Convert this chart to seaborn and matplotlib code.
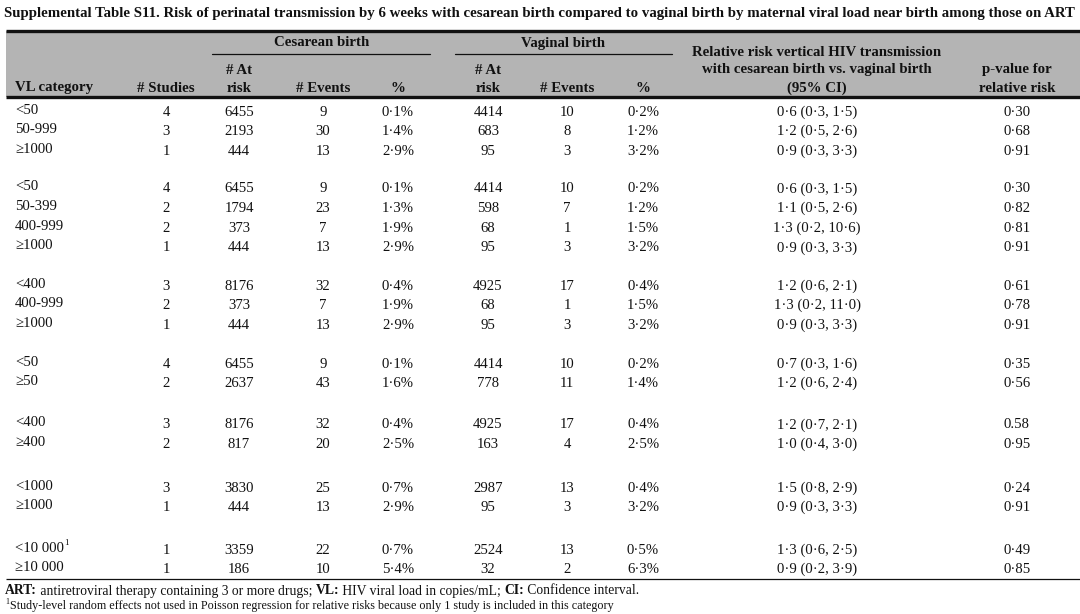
import matplotlib
matplotlib.use("Agg")
import matplotlib.pyplot as plt
import seaborn as sns

# ---------------- data ----------------
title = ("Supplemental Table S11. Risk of perinatal transmission by 6 weeks with cesarean birth "
         "compared to vaginal birth by maternal viral load near birth among those on ART")

group_sizes = [3, 4, 3, 2, 2, 2, 2]
vl_category = ["<50", "50-999", "≥1000",
               "<50", "50-399", "400-999", "≥1000",
               "<400", "400-999", "≥1000",
               "<50", "≥50",
               "<400", "≥400",
               "<1000", "≥1000",
               "<10 000", "≥10 000"]
vl_footnote_mark = ["", "", "", "", "", "", "", "", "", "", "", "", "", "", "", "", "1", ""]
n_studies = [4, 3, 1, 4, 2, 2, 1, 3, 2, 1, 4, 2, 3, 2, 3, 1, 1, 1]
ces_at_risk = [6455, 2193, 444, 6455, 1794, 373, 444, 8176, 373, 444, 6455, 2637, 8176, 817, 3830, 444, 3359, 186]
ces_events = [9, 30, 13, 9, 23, 7, 13, 32, 7, 13, 9, 43, 32, 20, 25, 13, 22, 10]
ces_pct = ["0·1%", "1·4%", "2·9%", "0·1%", "1·3%", "1·9%", "2·9%", "0·4%", "1·9%", "2·9%",
           "0·1%", "1·6%", "0·4%", "2·5%", "0·7%", "2·9%", "0·7%", "5·4%"]
vag_at_risk = [4414, 683, 95, 4414, 598, 68, 95, 4925, 68, 95, 4414, 778, 4925, 163, 2987, 95, 2524, 32]
vag_events = [10, 8, 3, 10, 7, 1, 3, 17, 1, 3, 10, 11, 17, 4, 13, 3, 13, 2]
vag_pct = ["0·2%", "1·2%", "3·2%", "0·2%", "1·2%", "1·5%", "3·2%", "0·4%", "1·5%", "3·2%",
           "0·2%", "1·4%", "0·4%", "2·5%", "0·4%", "3·2%", "0·5%", "6·3%"]
rel_risk = ["0·6 (0·3, 1·5)", "1·2 (0·5, 2·6)", "0·9 (0·3, 3·3)",
            "0·6 (0·3, 1·5)", "1·1 (0·5, 2·6)", "1·3 (0·2, 10·6)", "0·9 (0·3, 3·3)",
            "1·2 (0·6, 2·1)", "1·3 (0·2, 11·0)", "0·9 (0·3, 3·3)",
            "0·7 (0·3, 1·6)", "1·2 (0·6, 2·4)",
            "1·2 (0·7, 2·1)", "1·0 (0·4, 3·0)",
            "1·5 (0·8, 2·9)", "0·9 (0·3, 3·3)",
            "1·3 (0·6, 2·5)", "0·9 (0·2, 3·9)"]
p_value = ["0·30", "0·68", "0·91", "0·30", "0·82", "0·81", "0·91", "0·61", "0·78", "0·91",
           "0·35", "0·56", "0.58", "0·95", "0·24", "0·91", "0·49", "0·85"]

group_headers = ["Cesarean birth", "Vaginal birth"]
col_headers = ["VL category", "# Studies", "# At\nrisk", "# Events", "%", "# At\nrisk", "# Events", "%",
               "Relative risk vertical HIV transmission\nwith cesarean birth vs. vaginal birth\n(95% CI)",
               "p-value for\nrelative risk"]
footnote1 = [("ART:", "bold"), (" antiretroviral therapy containing 3 or more drugs; ", "normal"),
             ("VL:", "bold"), (" HIV viral load in copies/mL; ", "normal"),
             ("CI:", "bold"), (" Confidence interval.", "normal")]
footnote2 = "Study-level random effects not used in Poisson regression for relative risks because only 1 study is included in this category"

# ---------------- layout (pixels) ----------------
W, H = 1080, 614
sns.set_theme(style="white")
plt.rcParams["font.family"] = ["Liberation Serif", "DejaVu Serif"]

fig = plt.figure(figsize=(W / 100, H / 100), dpi=100)
ax = fig.add_axes([0, 0, 1, 1])
ax.set_xlim(0, W)
ax.set_ylim(H, 0)
ax.axis("off")

FS = 10.6
HFS = 10.75
INK = "#111111"
GRAY = "#b4b4b4"

# header band
ax.axhspan(31, 97, xmin=6 / W, xmax=1.0, color=GRAY, lw=0, zorder=0)
ax.plot([6, W], [31, 31], color=INK, lw=2.4, solid_capstyle="butt")
ax.plot([6, W], [97, 97], color=INK, lw=2.4, solid_capstyle="butt")
ax.plot([6, W], [579, 579], color=INK, lw=0.9, solid_capstyle="butt")

# title (shrunk just enough to fit the frame)
fig.canvas.draw()
renderer = fig.canvas.get_renderer()
tfs = 10.85
ttl = ax.text(4, 13, title, fontsize=tfs, fontweight="bold", color=INK, va="center", ha="left")
while ttl.get_window_extent(renderer=renderer).x1 > W - 2 and tfs > 8:
    tfs -= 0.05
    ttl.set_fontsize(tfs)

# column x centers
col_x = [15, 166, 239, 323, 398, 488, 567, 643, 817, 1017]

# group headers with underlines
ax.text(322, 43, group_headers[0], fontsize=HFS, fontweight="bold", ha="center", va="center", color=INK)
ax.plot([212, 430], [54, 54], color=INK, lw=0.9)
ax.text(563, 43, group_headers[1], fontsize=HFS, fontweight="bold", ha="center", va="center", color=INK)
ax.plot([455, 672], [54, 54], color=INK, lw=0.9)

# column headers (bottom aligned, 18px line spacing)
for j, hdr in enumerate(col_headers):
    lines = hdr.split("\n")
    n = len(lines)
    for k, line in enumerate(lines):
        y = 88 - 18 * (n - 1 - k)
        ax.text(col_x[j], y, line, fontsize=HFS, fontweight="bold", color=INK,
                ha="left" if j == 0 else "center", va="center")

# rows
group_starts = [112, 189, 286, 364, 425, 488, 550]
STEP = 19.6
row_y = []
for g, size in enumerate(group_sizes):
    for r in range(size):
        row_y.append(group_starts[g] + r * STEP)

for i, y in enumerate(row_y):
    t = ax.text(col_x[0], y - 2, vl_category[i], fontsize=FS, ha="left", va="center", color=INK)
    if vl_footnote_mark[i]:
        bb = t.get_window_extent(renderer=renderer)
        ax.text(col_x[0] + bb.width + 0.5, y - 7, vl_footnote_mark[i], fontsize=6.5,
                ha="left", va="center", color=INK)
    values = [n_studies[i], ces_at_risk[i], ces_events[i], ces_pct[i],
              vag_at_risk[i], vag_events[i], vag_pct[i], rel_risk[i], p_value[i]]
    for j, v in enumerate(values, start=1):
        ax.text(col_x[j], y, str(v), fontsize=FS, ha="center", va="center", color=INK)

# footnotes with mixed weights
x = 5
for txt, wt in footnote1:
    t = ax.text(x, 591, txt, fontsize=9.8, fontweight=wt, ha="left", va="center", color=INK)
    bb = t.get_window_extent(renderer=renderer)
    x += bb.width
ax.text(5, 602, "1", fontsize=5.8, ha="left", va="center", color=INK)
ax.text(10, 605.5, footnote2, fontsize=8.7, ha="left", va="center", color=INK)

fig.savefig("out.png", dpi=100)
